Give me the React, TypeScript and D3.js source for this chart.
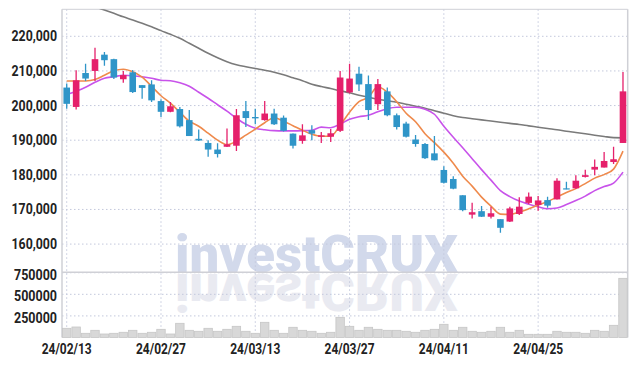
import React from 'react';
import * as d3 from 'd3';

const dates = [
  '24/02/13','24/02/14','24/02/15','24/02/16','24/02/19','24/02/20','24/02/21','24/02/22','24/02/23','24/02/26',
  '24/02/27','24/02/28','24/02/29','24/03/04','24/03/05','24/03/06','24/03/07','24/03/08','24/03/11','24/03/12',
  '24/03/13','24/03/14','24/03/15','24/03/18','24/03/19','24/03/20','24/03/21','24/03/22','24/03/25','24/03/26',
  '24/03/27','24/03/28','24/03/29','24/04/01','24/04/02','24/04/03','24/04/04','24/04/05','24/04/08','24/04/09',
  '24/04/11','24/04/12','24/04/15','24/04/16','24/04/17','24/04/18','24/04/19','24/04/22','24/04/23','24/04/24',
  '24/04/25','24/04/26','24/04/29','24/04/30','24/05/02','24/05/03','24/05/07','24/05/08','24/05/09','24/05/10',
];

const open = [
  205200,199600,209400,210000,214700,213400,207600,209600,205900,206100,
  201300,198200,199000,195800,190400,189200,187300,188100,188400,198400,
  196700,195800,197700,196500,191900,189800,192900,191000,191000,192700,
  203800,209200,206200,200400,204100,197200,194800,190200,188900,186200,
  181400,178800,174100,168500,169500,167900,167200,166500,168700,171900,
  171300,172700,172900,176100,176100,179400,181500,182100,183700,189200,
];
const high = [
  206400,210200,212100,216700,215500,213500,210000,210300,205900,207300,
  201800,201000,199600,198700,193100,190000,189100,193400,199000,201300,
  199100,201300,199100,197100,191900,194600,194300,192400,193200,210000,
  212100,211200,208700,207700,205200,197700,195300,191500,189200,191200,
  182500,179600,174100,171900,171000,170800,167200,170800,173500,174900,
  173900,173700,179000,178000,179900,181500,184400,186600,188100,209700,
];
const low = [
  199100,198900,207100,207100,211500,207700,206600,203600,202000,201000,
  196700,198100,193700,191200,189800,185200,185000,188000,186900,193800,
  194600,195600,194400,192500,187600,189000,190000,189200,189500,192400,
  203500,204200,195800,198700,196900,193100,190800,188100,184600,184100,
  177500,175800,169500,167400,167800,167400,163300,166400,168400,171500,
  169600,170500,172900,175800,176000,179200,179900,182100,183100,189200,
];
const close = [
  200500,207300,207800,213400,213100,208100,208800,203900,205100,201500,
  198200,199800,194000,191200,189900,187300,186000,188800,197200,196400,
  196300,197700,194600,192700,188400,191400,191900,191400,192000,208100,
  207800,206100,198700,206200,197200,193800,191000,188900,184800,184200,
  177700,176000,169800,169200,167900,168900,164700,170300,170800,173700,
  172600,171100,178300,176000,178300,179900,182300,184000,184500,204100,
];
const volume = [
  106500,121500,48600,83300,40500,48600,60200,83300,48600,60200,
  94900,40500,164400,83300,71800,106500,71800,94900,129600,71800,
  48600,175900,83300,48600,118100,83300,71800,48600,60200,233800,
  129600,83300,118100,94900,83300,83300,71800,60200,83300,94900,
  152800,83300,118100,71800,60200,71800,118100,60200,83300,37000,
  37000,37000,71800,60200,60200,48600,83300,71800,141200,685200,
];
const ma5 = [
  207100,207100,207100,207500,208750,210050,210480,209760,208180,205580,
  202840,200680,198080,195490,194040,192030,190010,188710,189720,191450,
  193180,195050,196500,195490,194190,192890,191740,191160,191160,194330,
  198080,201110,202410,205440,203850,201110,197790,195340,191880,189290,
  186550,183370,179620,176740,173570,170970,168660,168580,169240,170190,
  171260,172270,173570,174870,176020,177460,179050,180060,181640,186830,
];
const ma20 = [
  203190,204140,205290,206730,207890,208320,208750,208610,208320,207890,
  207310,207170,206590,205580,203850,202120,200240,198370,196350,194620,
  193470,193030,192750,192690,192690,192750,192890,193760,193610,194620,
  196060,196780,197220,198230,199090,199520,199520,199520,198950,197500,
  194040,190870,187840,184670,181500,178470,175440,173710,172410,171550,
  170770,170190,170400,171400,172560,173860,175440,176600,177600,180780,
];
const ma60 = [
  231540,230530,229520,228540,227590,226630,225620,224700,223750,222740,
  221640,220580,219420,217980,216540,215100,213800,212650,211780,211200,
  210680,210190,209620,208900,208030,207170,206160,205490,204920,204280,
  203700,202980,202410,201830,201400,200970,200390,199810,199240,198510,
  197790,197070,196550,196210,195860,195540,195200,194850,194530,194130,
  193760,193380,193030,192600,192230,191850,191450,191070,190730,190670,
];
const priceTicks = [160000, 170000, 180000, 190000, 200000, 210000, 220000];
const volumeTicks = [250000, 500000, 750000];
const dateTickStep = 10;

const W = 636;
const H = 366;
const LEFT = 62;
const RIGHT = 627.7;
const TOP = 9.3;
const DIVIDER = 272.3;
const BOTTOM = 337.5;

const RED = '#e5206b';
const BLUE = '#2f95c8';
const GRID = '#c3c8dc';
const BORDER = '#cfd0d6';
const FONT = 'Roboto, sans-serif';

export default function App() {
  const idx = d3.range(dates.length);
  const x = d3.scaleBand<number>().domain(idx).range([LEFT, RIGHT]).padding(0);
  const cx = (i: number) => (x(i) as number) + x.bandwidth() / 2;
  const y = d3.scaleLinear().domain([151850, 227800]).range([DIVIDER, TOP]);
  const yv = d3.scaleLinear().domain([0, 755000]).range([BOTTOM, DIVIDER]);

  const bodyW = x.bandwidth() * 0.7;
  const lineGen = (vals: number[]) =>
    d3.line<number>().x((_, i) => cx(i)).y((v) => y(v)).curve(d3.curveMonotoneX)(vals) || '';

  const dateTicks = idx.filter((i) => i % dateTickStep === 0);

  return (
    <svg width={W} height={H} style={{ position: 'fixed', left: 0, top: 0, background: '#fff' }}>
      <defs>
        <clipPath id="mainClip">
          <rect x={LEFT} y={TOP} width={RIGHT - LEFT} height={DIVIDER - TOP} />
        </clipPath>
        <clipPath id="reflClip">
          <rect x={LEFT} y={DIVIDER} width={RIGHT - LEFT} height={BOTTOM - DIVIDER} />
        </clipPath>
      </defs>
      <rect x={0} y={0} width={W} height={H} fill="#fff" />

      {/* watermark */}
      <text x={175} y={271.5} fontFamily="Roboto, sans-serif" fontWeight={900} fontSize={52}
        fill="#d2d9eb" textLength={283} lengthAdjust="spacingAndGlyphs">investCRUX</text>
      <g clipPath="url(#reflClip)">
        <text x={175} y={271.5} fontFamily="Roboto, sans-serif" fontWeight={900} fontSize={52}
          fill="#e9eaf1" textLength={283} lengthAdjust="spacingAndGlyphs"
          transform={`translate(0 ${2 * 272.5}) scale(1 -1)`}>investCRUX</text>
      </g>

      {/* grid */}
      {priceTicks.map((t) => (
        <line key={'pg' + t} x1={LEFT} x2={RIGHT} y1={y(t)} y2={y(t)} stroke={GRID} strokeDasharray="1.5,2.5" />
      ))}
      {volumeTicks.map((t) => (
        <line key={'vg' + t} x1={LEFT} x2={RIGHT} y1={yv(t)} y2={yv(t)} stroke={GRID} strokeDasharray="1.5,2.5" />
      ))}
      {dateTicks.map((i) => (
        <line key={'xg' + i} x1={cx(i)} x2={cx(i)} y1={TOP} y2={BOTTOM} stroke={GRID} strokeDasharray="1.5,2.5" />
      ))}

      {/* borders */}
      <line x1={LEFT} x2={RIGHT} y1={TOP} y2={TOP} stroke={BORDER} />
      <line x1={LEFT} x2={LEFT} y1={TOP} y2={BOTTOM} stroke={BORDER} strokeWidth={1.5} />
      <line x1={RIGHT} x2={RIGHT} y1={TOP} y2={BOTTOM} stroke={BORDER} strokeWidth={1.5} />
      <line x1={LEFT} x2={RIGHT} y1={DIVIDER} y2={DIVIDER} stroke={BORDER} strokeWidth={1.5} />

      {/* volume */}
      {volume.map((v, i) => (
        <rect key={'v' + i} x={(x(i) as number) + 0.5} y={yv(v)} width={x.bandwidth() - 1}
          height={BOTTOM - yv(v)} fill="#d8d8d8" stroke="#c6c6c6" strokeWidth={0.8} />
      ))}

      <g clipPath="url(#mainClip)">
        {/* moving averages */}
        <path d={lineGen(ma60)} fill="none" stroke="#7a7a7a" strokeWidth={1.6} />
        <path d={lineGen(ma20)} fill="none" stroke="#c853ea" strokeWidth={1.6} />
        <path d={lineGen(ma5)} fill="none" stroke="#ef8a4c" strokeWidth={1.6} />

        {/* candles */}
        {idx.map((i) => {
          const up = close[i] >= open[i];
          const col = up ? RED : BLUE;
          const top = y(Math.max(open[i], close[i]));
          const bot = y(Math.min(open[i], close[i]));
          return (
            <g key={'c' + i}>
              <line x1={cx(i)} x2={cx(i)} y1={y(high[i])} y2={y(low[i])} stroke={col} strokeWidth={1.3} />
              <rect x={cx(i) - bodyW / 2} y={top} width={bodyW} height={Math.max(1.2, bot - top)} fill={col} />
            </g>
          );
        })}
      </g>

      {/* axis labels */}
      {priceTicks.map((t) => (
        <text key={'pl' + t} x={57} y={y(t)} dy="0.36em" textAnchor="end" fontFamily={FONT}
          fontWeight={700} fontSize={14} fill="#222" textLength={45.5}
          lengthAdjust="spacingAndGlyphs">{d3.format(',')(t)}</text>
      ))}
      {volumeTicks.map((t) => (
        <text key={'vl' + t} x={57} y={yv(t) + 2} dy="0.36em" textAnchor="end" fontFamily={FONT}
          fontWeight={700} fontSize={14} fill="#222" textLength={43}
          lengthAdjust="spacingAndGlyphs">{String(t)}</text>
      ))}
      {dateTicks.map((i) => (
        <text key={'xl' + i} x={cx(i)} y={354.3} textAnchor="middle" fontFamily={FONT}
          fontWeight={700} fontSize={14.5} fill="#222" textLength={50}
          lengthAdjust="spacingAndGlyphs">{dates[i]}</text>
      ))}
    </svg>
  );
}
